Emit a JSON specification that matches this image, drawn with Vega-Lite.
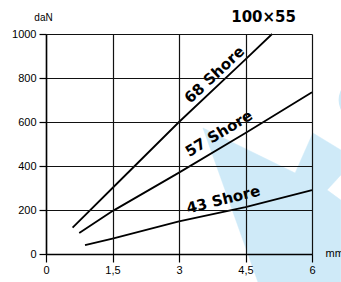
{
  "$schema": "https://vega.github.io/schema/vega-lite/v6.json",
  "width": 266,
  "height": 220,
  "autosize": "none",
  "padding": {"left": 46, "top": 34, "right": 29, "bottom": 28},
  "background": "white",
  "config": {"view": {"stroke": null}, "font": "Liberation Sans"},
  "title": {"text": "100×55", "anchor": "end", "frame": "group", "dx": -16, "offset": -13, "font": "DejaVu Sans", "fontSize": 15, "fontWeight": "bold", "color": "black"},
  "datasets": {
    "shape": [
      {"i": 1, "x": 3.54, "y": 573},
      {"i": 2, "x": 5.62, "y": 368},
      {"i": 3, "x": 6.02, "y": 550},
      {"i": 4, "x": 6.65, "y": 473},
      {"i": 5, "x": 6.65, "y": 359},
      {"i": 6, "x": 6.34, "y": 291},
      {"i": 7, "x": 6.65, "y": 245},
      {"i": 8, "x": 6.65, "y": -127},
      {"i": 9, "x": 4.78, "y": -127},
      {"i": 10, "x": 3.54, "y": 573}
    ],
    "circle": [{"x": 7.1, "y": 700}],
    "curves": [
      {"s": "68", "x": 0.6, "y": 120}, {"s": "68", "x": 1.5, "y": 300}, {"s": "68", "x": 3, "y": 600}, {"s": "68", "x": 4.5, "y": 885}, {"s": "68", "x": 5.1, "y": 1000},
      {"s": "57", "x": 0.75, "y": 95}, {"s": "57", "x": 1.5, "y": 195}, {"s": "57", "x": 3, "y": 370}, {"s": "57", "x": 4.5, "y": 550}, {"s": "57", "x": 6, "y": 735},
      {"s": "43", "x": 0.88, "y": 40}, {"s": "43", "x": 1.5, "y": 70}, {"s": "43", "x": 3, "y": 148}, {"s": "43", "x": 4.5, "y": 213}, {"s": "43", "x": 6, "y": 290}
    ],
    "labels": [
      {"t": "68 Shore", "x": 3.8, "y": 815, "a": 317},
      {"t": "57 Shore", "x": 3.9, "y": 548, "a": 329},
      {"t": "43 Shore", "x": 4.0, "y": 248, "a": 346}
    ]
  },
  "layer": [
    {
      "data": {"name": "shape"},
      "mark": {"type": "line", "fill": "#cfeaf8", "stroke": "#cfeaf8", "strokeWidth": 0.5, "clip": false},
      "encoding": {
        "x": {"field": "x", "type": "quantitative", "scale": {"domain": [0, 6], "nice": false},
          "axis": {"values": [0, 1.5, 3, 4.5, 6], "labelExpr": "replace(toString(datum.value), '.', ',')", "grid": true, "gridColor": "#111111", "gridOpacity": 1, "gridWidth": 1.2, "domainColor": "black", "domainWidth": 1.5, "tickColor": "black", "tickWidth": 1.2, "tickSize": 8, "labelPadding": 2, "labelColor": "black", "labelFontSize": 11, "labelFont": "Liberation Sans", "labelFlush": false, "title": "mm", "titleFont": "Liberation Sans", "titleFontWeight": "normal", "titleFontSize": 11, "titleColor": "black", "titleX": 279, "titleY": -1, "titleAlign": "left", "titleBaseline": "middle", "zindex": 1}},
        "y": {"field": "y", "type": "quantitative", "scale": {"domain": [0, 1000], "nice": false},
          "axis": {"values": [0, 200, 400, 600, 800, 1000], "format": "d", "grid": true, "gridColor": "#111111", "gridOpacity": 1, "gridWidth": 1.2, "domainColor": "black", "domainWidth": 1.5, "tickColor": "black", "tickWidth": 1.2, "tickSize": 7, "labelPadding": 3, "labelColor": "black", "labelFontSize": 11, "labelFont": "Liberation Sans", "labelFlush": false, "title": "daN", "titleFont": "Liberation Sans", "titleFontWeight": "normal", "titleFontSize": 10, "titleColor": "black", "titleAngle": 0, "titleX": -3, "titleY": -17, "titleAlign": "center", "titleBaseline": "middle", "zindex": 1}},
        "order": {"field": "i"}
      }
    },
    {
      "data": {"name": "circle"},
      "mark": {"type": "point", "filled": true, "color": "#cfeaf8", "opacity": 1, "size": 1963, "clip": false},
      "encoding": {
        "x": {"field": "x", "type": "quantitative", "scale": {"domain": [0, 6], "nice": false}},
        "y": {"field": "y", "type": "quantitative", "scale": {"domain": [0, 1000], "nice": false}}
      }
    },
    {
      "data": {"name": "curves"},
      "mark": {"type": "line", "color": "black", "strokeWidth": 1.8},
      "encoding": {
        "x": {"field": "x", "type": "quantitative", "scale": {"domain": [0, 6], "nice": false}},
        "y": {"field": "y", "type": "quantitative", "scale": {"domain": [0, 1000], "nice": false}},
        "detail": {"field": "s"}
      }
    },
    {
      "data": {"name": "labels"},
      "mark": {"type": "text", "font": "DejaVu Sans", "fontWeight": "bold", "fontSize": 15, "color": "black", "align": "center", "baseline": "middle"},
      "encoding": {
        "x": {"field": "x", "type": "quantitative", "scale": {"domain": [0, 6], "nice": false}},
        "y": {"field": "y", "type": "quantitative", "scale": {"domain": [0, 1000], "nice": false}},
        "text": {"field": "t"},
        "angle": {"field": "a", "type": "quantitative", "scale": null}
      }
    }
  ]
}
